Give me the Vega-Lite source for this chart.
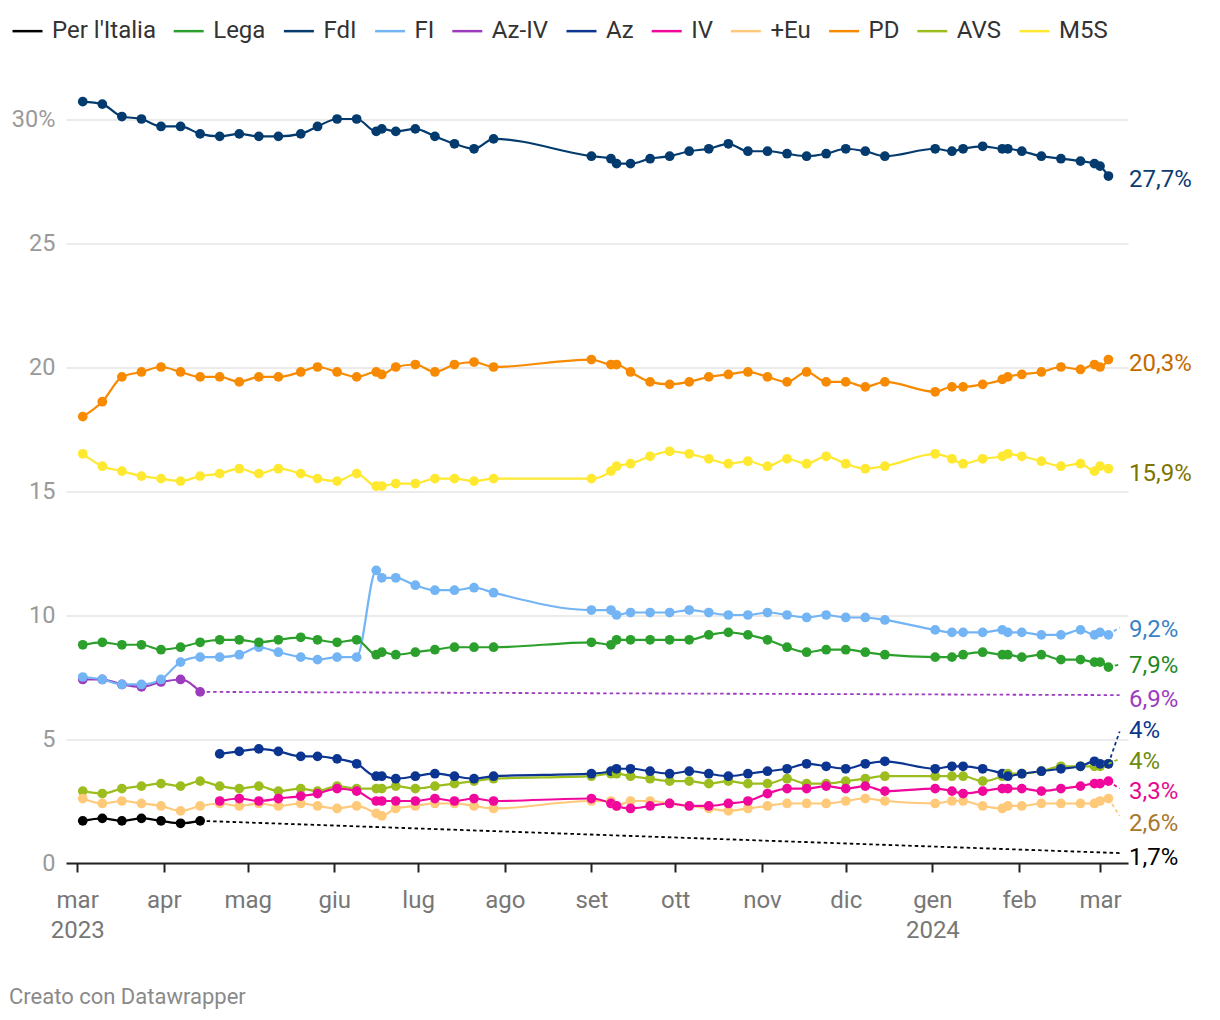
{
  "$schema": "https://vega.github.io/schema/vega-lite/v6.json",
  "width": 1062,
  "height": 793.6,
  "autosize": {"type": "none"},
  "padding": {"left": 66, "top": 69.4, "right": 92, "bottom": 157},
  "background": "white",
  "config": {"font": "Roboto", "view": {"stroke": null}},
  "title": {"text": "Creato con Datawrapper", "orient": "bottom", "anchor": "start", "frame": "bounds", "font": "Roboto", "fontSize": 22, "fontWeight": "normal", "color": "#8a8a8a", "offset": 45, "dx": -2},
  "datasets": {
    "wide": [
      {"d":"2023-03-03","FdI":30.7,"PD":18.0,"M5S":16.5,"Lega":8.8,"FI":7.5,"AVS":2.9,"+Eu":2.6,"Az-IV":7.4,"PLI":1.7},
      {"d":"2023-03-10","FdI":30.6,"PD":18.6,"M5S":16.0,"Lega":8.9,"FI":7.4,"AVS":2.8,"+Eu":2.4,"Az-IV":7.4,"PLI":1.8},
      {"d":"2023-03-17","FdI":30.1,"PD":19.6,"M5S":15.8,"Lega":8.8,"FI":7.2,"AVS":3.0,"+Eu":2.5,"Az-IV":7.2,"PLI":1.7},
      {"d":"2023-03-24","FdI":30.0,"PD":19.8,"M5S":15.6,"Lega":8.8,"FI":7.2,"AVS":3.1,"+Eu":2.4,"Az-IV":7.1,"PLI":1.8},
      {"d":"2023-03-31","FdI":29.7,"PD":20.0,"M5S":15.5,"Lega":8.6,"FI":7.4,"AVS":3.2,"+Eu":2.3,"Az-IV":7.3,"PLI":1.7},
      {"d":"2023-04-07","FdI":29.7,"PD":19.8,"M5S":15.4,"Lega":8.7,"FI":8.1,"AVS":3.1,"+Eu":2.1,"Az-IV":7.4,"PLI":1.6},
      {"d":"2023-04-14","FdI":29.4,"PD":19.6,"M5S":15.6,"Lega":8.9,"FI":8.3,"AVS":3.3,"+Eu":2.3,"Az-IV":6.9,"PLI":1.7},
      {"d":"2023-04-21","FdI":29.3,"PD":19.6,"M5S":15.7,"Lega":9.0,"FI":8.3,"AVS":3.1,"+Eu":2.4,"Az":4.4,"IV":2.5},
      {"d":"2023-04-28","FdI":29.4,"PD":19.4,"M5S":15.9,"Lega":9.0,"FI":8.4,"AVS":3.0,"+Eu":2.3,"Az":4.5,"IV":2.6},
      {"d":"2023-05-05","FdI":29.3,"PD":19.6,"M5S":15.7,"Lega":8.9,"FI":8.7,"AVS":3.1,"+Eu":2.4,"Az":4.6,"IV":2.5},
      {"d":"2023-05-12","FdI":29.3,"PD":19.6,"M5S":15.9,"Lega":9.0,"FI":8.5,"AVS":2.9,"+Eu":2.3,"Az":4.5,"IV":2.6},
      {"d":"2023-05-20","FdI":29.4,"PD":19.8,"M5S":15.7,"Lega":9.1,"FI":8.3,"AVS":3.0,"+Eu":2.4,"Az":4.3,"IV":2.7},
      {"d":"2023-05-26","FdI":29.7,"PD":20.0,"M5S":15.5,"Lega":9.0,"FI":8.2,"AVS":2.9,"+Eu":2.3,"Az":4.3,"IV":2.8},
      {"d":"2023-06-02","FdI":30.0,"PD":19.8,"M5S":15.4,"Lega":8.9,"FI":8.3,"AVS":3.1,"+Eu":2.2,"Az":4.2,"IV":3.0},
      {"d":"2023-06-09","FdI":30.0,"PD":19.6,"M5S":15.7,"Lega":9.0,"FI":8.3,"AVS":3.0,"+Eu":2.3,"Az":4.0,"IV":2.9},
      {"d":"2023-06-16","FdI":29.5,"PD":19.8,"M5S":15.2,"Lega":8.4,"FI":11.8,"AVS":3.0,"+Eu":2.0,"Az":3.5,"IV":2.5},
      {"d":"2023-06-18","FdI":29.6,"PD":19.7,"M5S":15.2,"Lega":8.5,"FI":11.5,"AVS":3.0,"+Eu":1.9,"Az":3.5,"IV":2.5},
      {"d":"2023-06-23","FdI":29.5,"PD":20.0,"M5S":15.3,"Lega":8.4,"FI":11.5,"AVS":3.1,"+Eu":2.2,"Az":3.4,"IV":2.5},
      {"d":"2023-06-30","FdI":29.6,"PD":20.1,"M5S":15.3,"Lega":8.5,"FI":11.2,"AVS":3.0,"+Eu":2.3,"Az":3.5,"IV":2.5},
      {"d":"2023-07-07","FdI":29.3,"PD":19.8,"M5S":15.5,"Lega":8.6,"FI":11.0,"AVS":3.1,"+Eu":2.4,"Az":3.6,"IV":2.6},
      {"d":"2023-07-14","FdI":29.0,"PD":20.1,"M5S":15.5,"Lega":8.7,"FI":11.0,"AVS":3.2,"+Eu":2.4,"Az":3.5,"IV":2.5},
      {"d":"2023-07-21","FdI":28.8,"PD":20.2,"M5S":15.4,"Lega":8.7,"FI":11.1,"AVS":3.3,"+Eu":2.3,"Az":3.4,"IV":2.6},
      {"d":"2023-07-28","FdI":29.2,"PD":20.0,"M5S":15.5,"Lega":8.7,"FI":10.9,"AVS":3.4,"+Eu":2.2,"Az":3.5,"IV":2.5},
      {"d":"2023-09-01","FdI":28.5,"PD":20.3,"M5S":15.5,"Lega":8.9,"FI":10.2,"AVS":3.5,"+Eu":2.5,"Az":3.6,"IV":2.6},
      {"d":"2023-09-08","FdI":28.4,"PD":20.1,"M5S":15.8,"Lega":8.8,"FI":10.2,"AVS":3.6,"+Eu":2.5,"Az":3.7,"IV":2.4},
      {"d":"2023-09-10","FdI":28.2,"PD":20.1,"M5S":16.0,"Lega":9.0,"FI":10.0,"AVS":3.6,"+Eu":2.3,"Az":3.8,"IV":2.3},
      {"d":"2023-09-15","FdI":28.2,"PD":19.8,"M5S":16.1,"Lega":9.0,"FI":10.1,"AVS":3.5,"+Eu":2.5,"Az":3.8,"IV":2.2},
      {"d":"2023-09-22","FdI":28.4,"PD":19.4,"M5S":16.4,"Lega":9.0,"FI":10.1,"AVS":3.4,"+Eu":2.5,"Az":3.7,"IV":2.3},
      {"d":"2023-09-29","FdI":28.5,"PD":19.3,"M5S":16.6,"Lega":9.0,"FI":10.1,"AVS":3.3,"+Eu":2.4,"Az":3.6,"IV":2.4},
      {"d":"2023-10-06","FdI":28.7,"PD":19.4,"M5S":16.5,"Lega":9.0,"FI":10.2,"AVS":3.3,"+Eu":2.3,"Az":3.7,"IV":2.3},
      {"d":"2023-10-13","FdI":28.8,"PD":19.6,"M5S":16.3,"Lega":9.2,"FI":10.1,"AVS":3.2,"+Eu":2.2,"Az":3.6,"IV":2.3},
      {"d":"2023-10-20","FdI":29.0,"PD":19.7,"M5S":16.1,"Lega":9.3,"FI":10.0,"AVS":3.3,"+Eu":2.1,"Az":3.5,"IV":2.4},
      {"d":"2023-10-27","FdI":28.7,"PD":19.8,"M5S":16.2,"Lega":9.2,"FI":10.0,"AVS":3.2,"+Eu":2.2,"Az":3.6,"IV":2.5},
      {"d":"2023-11-03","FdI":28.7,"PD":19.6,"M5S":16.0,"Lega":9.0,"FI":10.1,"AVS":3.2,"+Eu":2.3,"Az":3.7,"IV":2.8},
      {"d":"2023-11-10","FdI":28.6,"PD":19.4,"M5S":16.3,"Lega":8.7,"FI":10.0,"AVS":3.4,"+Eu":2.4,"Az":3.8,"IV":3.0},
      {"d":"2023-11-17","FdI":28.5,"PD":19.8,"M5S":16.1,"Lega":8.5,"FI":9.9,"AVS":3.2,"+Eu":2.4,"Az":4.0,"IV":3.0},
      {"d":"2023-11-24","FdI":28.6,"PD":19.4,"M5S":16.4,"Lega":8.6,"FI":10.0,"AVS":3.2,"+Eu":2.4,"Az":3.9,"IV":3.1},
      {"d":"2023-12-01","FdI":28.8,"PD":19.4,"M5S":16.1,"Lega":8.6,"FI":9.9,"AVS":3.3,"+Eu":2.5,"Az":3.8,"IV":3.0},
      {"d":"2023-12-08","FdI":28.7,"PD":19.2,"M5S":15.9,"Lega":8.5,"FI":9.9,"AVS":3.4,"+Eu":2.6,"Az":4.0,"IV":3.1},
      {"d":"2023-12-15","FdI":28.5,"PD":19.4,"M5S":16.0,"Lega":8.4,"FI":9.8,"AVS":3.5,"+Eu":2.5,"Az":4.1,"IV":2.9},
      {"d":"2024-01-02","FdI":28.8,"PD":19.0,"M5S":16.5,"Lega":8.3,"FI":9.4,"AVS":3.5,"+Eu":2.4,"Az":3.8,"IV":3.0},
      {"d":"2024-01-08","FdI":28.7,"PD":19.2,"M5S":16.3,"Lega":8.3,"FI":9.3,"AVS":3.5,"+Eu":2.5,"Az":3.9,"IV":2.9},
      {"d":"2024-01-12","FdI":28.8,"PD":19.2,"M5S":16.1,"Lega":8.4,"FI":9.3,"AVS":3.5,"+Eu":2.5,"Az":3.9,"IV":2.8},
      {"d":"2024-01-19","FdI":28.9,"PD":19.3,"M5S":16.3,"Lega":8.5,"FI":9.3,"AVS":3.3,"+Eu":2.3,"Az":3.8,"IV":2.9},
      {"d":"2024-01-26","FdI":28.8,"PD":19.5,"M5S":16.4,"Lega":8.4,"FI":9.4,"AVS":3.5,"+Eu":2.2,"Az":3.6,"IV":3.0},
      {"d":"2024-01-28","FdI":28.8,"PD":19.6,"M5S":16.5,"Lega":8.4,"FI":9.3,"AVS":3.6,"+Eu":2.3,"Az":3.5,"IV":3.0},
      {"d":"2024-02-02","FdI":28.7,"PD":19.7,"M5S":16.4,"Lega":8.3,"FI":9.3,"AVS":3.6,"+Eu":2.3,"Az":3.6,"IV":3.0},
      {"d":"2024-02-09","FdI":28.5,"PD":19.8,"M5S":16.2,"Lega":8.4,"FI":9.2,"AVS":3.7,"+Eu":2.4,"Az":3.7,"IV":2.9},
      {"d":"2024-02-16","FdI":28.4,"PD":20.0,"M5S":16.0,"Lega":8.2,"FI":9.2,"AVS":3.9,"+Eu":2.4,"Az":3.8,"IV":3.0},
      {"d":"2024-02-23","FdI":28.3,"PD":19.9,"M5S":16.1,"Lega":8.2,"FI":9.4,"AVS":3.9,"+Eu":2.4,"Az":3.9,"IV":3.1},
      {"d":"2024-02-28","FdI":28.2,"PD":20.1,"M5S":15.8,"Lega":8.1,"FI":9.2,"AVS":3.9,"+Eu":2.4,"Az":4.1,"IV":3.2},
      {"d":"2024-03-01","FdI":28.1,"PD":20.0,"M5S":16.0,"Lega":8.1,"FI":9.3,"AVS":3.9,"+Eu":2.5,"Az":4.0,"IV":3.2},
      {"d":"2024-03-04","FdI":27.7,"PD":20.3,"M5S":15.9,"Lega":7.9,"FI":9.2,"AVS":4.0,"+Eu":2.6,"Az":4.0,"IV":3.3}
    ],
    "conn": [
      {"s":"PLI","d":"2023-04-14","v":1.7},{"s":"PLI","d":"2024-03-08","v":0.4},
      {"s":"Az-IV","d":"2023-04-14","v":6.9},{"s":"Az-IV","d":"2024-03-08","v":6.77},
      {"s":"FI","d":"2024-03-04","v":9.2},{"s":"FI","d":"2024-03-08","v":9.5},
      {"s":"Lega","d":"2024-03-04","v":7.9},{"s":"Lega","d":"2024-03-08","v":8.0},
      {"s":"Az","d":"2024-03-04","v":4.0},{"s":"Az","d":"2024-03-08","v":5.3},
      {"s":"AVS","d":"2024-03-04","v":4.0},{"s":"AVS","d":"2024-03-08","v":4.2},
      {"s":"IV","d":"2024-03-04","v":3.3},{"s":"IV","d":"2024-03-08","v":3.0},
      {"s":"+Eu","d":"2024-03-04","v":2.6},{"s":"+Eu","d":"2024-03-08","v":1.9}
    ],
    "labels": [
      {"s":"FdI","d":"2024-03-11","v":27.54,"t":"27,7%"},
      {"s":"PD","d":"2024-03-11","v":20.12,"t":"20,3%"},
      {"s":"M5S","d":"2024-03-11","v":15.69,"t":"15,9%"},
      {"s":"FI","d":"2024-03-11","v":9.4,"t":"9,2%"},
      {"s":"Lega","d":"2024-03-11","v":7.94,"t":"7,9%"},
      {"s":"Az-IV","d":"2024-03-11","v":6.57,"t":"6,9%"},
      {"s":"Az","d":"2024-03-11","v":5.32,"t":"4%"},
      {"s":"AVS","d":"2024-03-11","v":4.07,"t":"4%"},
      {"s":"IV","d":"2024-03-11","v":2.86,"t":"3,3%"},
      {"s":"+Eu","d":"2024-03-11","v":1.57,"t":"2,6%"},
      {"s":"PLI","d":"2024-03-11","v":0.2,"t":"1,7%"}
    ]
  },
  "encoding": {
    "x": {
      "field": "d", "type": "temporal",
      "scale": {"domain": [{"year": 2023, "month": 2, "date": 25, "utc": true}, {"year": 2024, "month": 3, "date": 11, "utc": true}]},
      "axis": {
        "title": null, "grid": false,
        "tickCount": {"interval": "month", "step": 1},
        "labelExpr": "(month(datum.value)==0 || (year(datum.value)==2023 && month(datum.value)==2)) ? [['gen','feb','mar','apr','mag','giu','lug','ago','set','ott','nov','dic'][month(datum.value)], '' + year(datum.value)] : ['gen','feb','mar','apr','mag','giu','lug','ago','set','ott','nov','dic'][month(datum.value)]",
        "labelFont": "Roboto", "labelFontSize": 24, "labelColor": "#777777",
        "labelLineHeight": 30, "labelPadding": 16, "labelAlign": "center",
        "labelFlush": false, "labelOverlap": false, "labelBound": false,
        "tickSize": 9, "tickColor": "#222222", "tickWidth": 2,
        "domainColor": "#222222", "domainWidth": 2
      }
    },
    "y": {
      "field": "v", "type": "quantitative",
      "scale": {"domain": [0, 32], "nice": false, "zero": true},
      "axis": {
        "title": null, "values": [0, 5, 10, 15, 20, 25, 30],
        "labelExpr": "datum.value == 30 ? '30%' : datum.label",
        "grid": true, "gridColor": "#e4e4e4", "gridWidth": 1.5,
        "domain": false, "ticks": false, "tickSize": 0,
        "labelPadding": 11, "labelFont": "Roboto", "labelFontSize": 23.5, "labelColor": "#9a9a9a"
      }
    }
  },
  "layer": [
    {
      "data": {"name": "wide"},
      "transform": [
        {"fold": ["M5S", "AVS", "PD", "+Eu", "IV", "Az", "Az-IV", "FI", "FdI", "Lega", "PLI"], "as": ["s", "v"]},
        {"filter": "isValid(datum.v)"}
      ],
      "encoding": {
        "color": {
          "field": "s", "type": "nominal",
          "scale": {
            "domain": ["PLI", "Lega", "FdI", "FI", "Az-IV", "Az", "IV", "+Eu", "PD", "AVS", "M5S"],
            "range": ["#000000", "#2ca02c", "#033b6e", "#73b4f5", "#9b3cbf", "#0b3590", "#f0089d", "#ffc97a", "#f78a00", "#9cbd1e", "#ffe830"]
          },
          "legend": {
            "orient": "none", "legendX": -55, "legendY": -55, "direction": "horizontal", "columns": 11,
            "title": null, "padding": 0, "symbolType": "stroke", "symbolSize": 900, "symbolStrokeWidth": 2.5,
            "labelFont": "Roboto", "labelFontSize": 24, "labelColor": "#333333", "labelOffset": 8,
            "columnPadding": 12.2, "labelLimit": 0,
            "labelExpr": "datum.label == 'PLI' ? \"Per l'Italia\" : datum.label"
          }
        }
      },
      "layer": [
        {"mark": {"type": "line", "strokeWidth": 2.2, "interpolate": "monotone"}},
        {"mark": {"type": "point", "filled": true, "size": 95, "opacity": 1}}
      ]
    },
    {
      "data": {"name": "conn"},
      "mark": {"type": "line", "strokeWidth": 1.8, "strokeDash": [3.5, 3]},
      "encoding": {
        "color": {
          "field": "s", "type": "nominal", "legend": null,
          "scale": {
            "domain": ["PLI", "Lega", "FdI", "FI", "Az-IV", "Az", "IV", "+Eu", "PD", "AVS", "M5S"],
            "range": ["#000000", "#2ca02c", "#033b6e", "#73b4f5", "#9b3cbf", "#0b3590", "#f0089d", "#ffc97a", "#f78a00", "#9cbd1e", "#ffe830"]
          }
        }
      }
    },
    {
      "data": {"name": "labels"},
      "mark": {"type": "text", "align": "left", "baseline": "middle", "font": "Roboto", "fontSize": 24, "dx": 1},
      "encoding": {
        "text": {"field": "t"},
        "color": {
          "field": "s", "type": "nominal", "legend": null,
          "scale": {
            "domain": ["PLI", "Lega", "FdI", "FI", "Az-IV", "Az", "IV", "+Eu", "PD", "AVS", "M5S"],
            "range": ["#000000", "#23891f", "#0b3c70", "#3a82c6", "#9b3cbf", "#0b3590", "#e6088f", "#a8782c", "#c46a00", "#6d8a0a", "#7e7400"]
          }
        }
      }
    }
  ],
  "resolve": {"scale": {"color": "independent"}}
}
